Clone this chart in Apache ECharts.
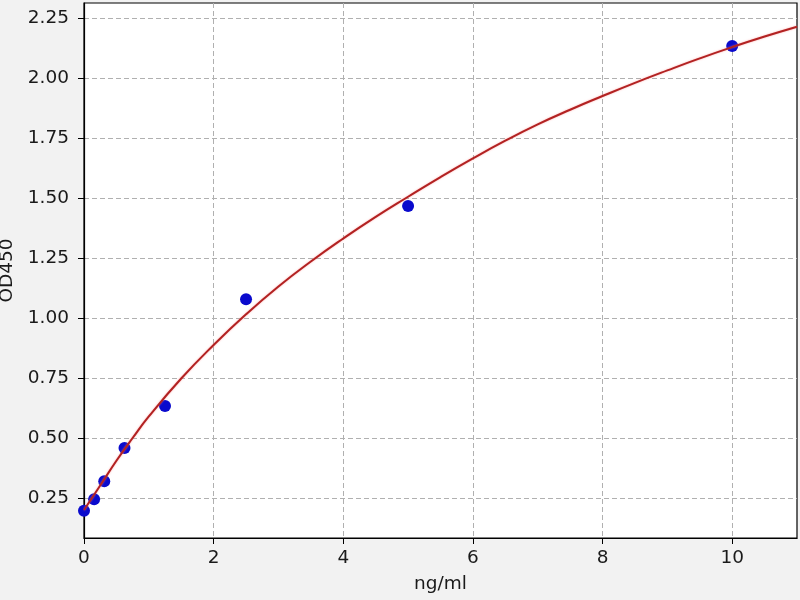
<!DOCTYPE html>
<html>
<head>
<meta charset="utf-8">
<script src="https://cdn.jsdelivr.net/npm/echarts@6/dist/echarts.min.js"></script>
<style>
  html, body { margin: 0; padding: 0; background: #f2f2f2; }
  #chart { width: 800px; height: 600px; }
</style>
</head>
<body>
<div id="chart"></div>
<script>
// standard points (concentration, OD)
const concentrations = [0, 0.156, 0.3125, 0.625, 1.25, 2.5, 5, 10];
const odValues = [0.197, 0.245, 0.32, 0.458, 0.633, 1.079, 1.467, 2.135];

// fitted curve
const curveX = [0, 0.25, 0.5, 0.75, 1, 1.5, 2, 2.5, 3, 3.5, 4, 4.5, 5, 5.5, 6, 6.5, 7, 7.5, 8, 8.5, 9, 9.5, 10, 10.5, 11];
const curveY = [0.2, 0.302, 0.405, 0.5, 0.59, 0.748, 0.888, 1.016, 1.132, 1.236, 1.332, 1.422, 1.506, 1.588, 1.666, 1.74, 1.808, 1.869, 1.926, 1.981, 2.033, 2.083, 2.13, 2.174, 2.215];

const xTicks = [0, 2, 4, 6, 8, 10];
const yTicks = [0.25, 0.5, 0.75, 1.0, 1.25, 1.5, 1.75, 2.0, 2.25];

const font = 'DejaVu Sans';
const textColor = '#1a1a1a';
const fontSize = 18.5;

const chart = echarts.init(document.getElementById('chart'), null, { renderer: 'canvas' });

chart.setOption({
  animation: false,
  backgroundColor: '#f2f2f2',
  grid: {
    left: 84, right: 3, top: 3, bottom: 62,
    outerBoundsMode: 'none',
    containLabel: false,
    show: true,
    backgroundColor: '#fff',
    borderColor: '#000',
    borderWidth: 1.2
  },
  xAxis: {
    type: 'value',
    min: 0,
    max: 11,
    name: 'ng/ml',
    nameLocation: 'middle',
    nameGap: 37,
    nameTextStyle: { fontFamily: font, fontSize: fontSize, color: textColor },
    axisLine: { show: true, onZero: false, lineStyle: { color: '#000', width: 1.2 } },
    axisTick: { show: true, length: 6, customValues: xTicks, lineStyle: { color: '#000' } },
    axisLabel: {
      customValues: xTicks,
      margin: 11,
      fontFamily: font, fontSize: fontSize, color: textColor
    },
    splitLine: { show: true, lineStyle: { color: '#b0b0b0', type: [5, 3], width: 1 } }
  },
  yAxis: {
    type: 'value',
    min: 0.083,
    max: 2.314,
    name: 'OD450',
    nameLocation: 'middle',
    nameGap: 62,
    nameTextStyle: { fontFamily: font, fontSize: fontSize, color: textColor },
    axisLine: { show: true, onZero: false, lineStyle: { color: '#000', width: 1.2 } },
    axisTick: { show: true, length: 6, customValues: yTicks, lineStyle: { color: '#000' } },
    axisLabel: {
      customValues: yTicks,
      margin: 15,
      formatter: v => v.toFixed(2),
      fontFamily: font, fontSize: fontSize, color: textColor
    },
    splitLine: { show: true, lineStyle: { color: '#b0b0b0', type: [5, 3], width: 1 } }
  },
  series: [
    {
      type: 'scatter',
      data: concentrations.map((c, i) => [c, odValues[i]]),
      symbolSize: 12,
      itemStyle: { color: '#0a0acd', opacity: 1 },
      z: 2
    },
    {
      type: 'line',
      data: curveX.map((c, i) => [c, curveY[i]]),
      smooth: true,
      showSymbol: false,
      lineStyle: { color: '#b22222', width: 2, shadowColor: 'rgba(255,120,120,0.6)', shadowBlur: 2 },
      z: 3
    }
  ]
});
</script>
</body>
</html>
